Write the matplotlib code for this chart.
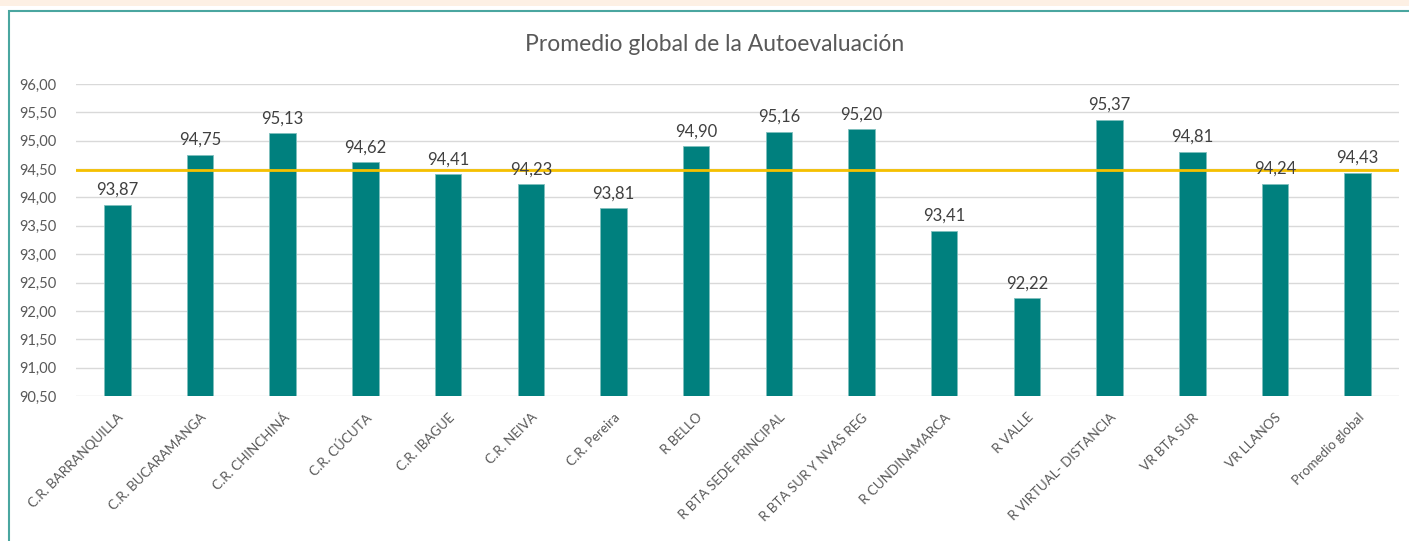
import matplotlib
matplotlib.use("Agg")
import matplotlib.pyplot as plt
from matplotlib.patches import Rectangle
from matplotlib.ticker import FuncFormatter

categories = ["C.R. BARRANQUILLA", "C.R. BUCARAMANGA", "C.R. CHINCHINÁ", "C.R. CÚCUTA",
              "C.R. IBAGUE", "C.R. NEIVA", "C.R. Pereira", "R BELLO",
              "R BTA SEDE PRINCIPAL", "R BTA SUR Y NVAS REG", "R CUNDINAMARCA", "R VALLE",
              "R VIRTUAL- DISTANCIA", "VR BTA SUR", "VR LLANOS", "Promedio global"]
values = [93.87, 94.75, 95.13, 94.62, 94.41, 94.23, 93.81, 94.90,
          95.16, 95.20, 93.41, 92.22, 95.37, 94.81, 94.24, 94.43]
reference_line = 94.48
title = "Promedio global de la Autoevaluación"

plt.rcParams['font.family'] = ['Lato', 'DejaVu Sans']
grey = "#595959"

fig = plt.figure(figsize=(14.09, 5.41), dpi=100)
W, H = 1409, 541
# peach top strip
fig.patches.append(Rectangle((0, 1 - 6 / H), 1, 6 / H, transform=fig.transFigure,
                             facecolor="#fdf0e4", edgecolor="none", zorder=-2))
# teal frame
fig.patches.append(Rectangle((9 / W, -0.1), 1.2, 1 - 11 / H + 0.1, transform=fig.transFigure,
                             facecolor="white", edgecolor="#4aa6a0", linewidth=1.5, zorder=-1))

ax = fig.add_axes([76 / W, 1 - 396 / H, (1399 - 76) / W, (396 - 84) / H])
ax.set_zorder(2)
ax.set_facecolor("none")
x = range(len(categories))
ax.bar(x, values, width=0.32, color="#00807e", edgecolor="#7fbfbd", linewidth=0.6, zorder=2)
ax.axhline(reference_line, color="#f5c000", linewidth=2, zorder=3)
ax.set_ylim(90.5, 96.0)
ax.set_xlim(-0.5, len(categories) - 0.5)
ax.set_yticks([90.5 + 0.5 * i for i in range(12)])
ax.yaxis.set_major_formatter(FuncFormatter(lambda v, p: f"{v:.2f}".replace(".", ",")))
ax.grid(axis="y", color="#d9d9d9", linewidth=1, zorder=0)
for s in ax.spines.values():
    s.set_visible(False)
ax.tick_params(axis="both", length=0, colors=grey, labelsize=10.5)
ax.tick_params(axis="y", pad=14)
ax.tick_params(axis="x", pad=11)
ax.set_xticks(list(x))
ax.set_xticklabels(categories, rotation=45, ha="right", rotation_mode="anchor", fontsize=9.6)
for xi, v in zip(x, values):
    ax.annotate(f"{v:.2f}".replace(".", ","), (xi, v), xytext=(0, 5), textcoords="offset points",
                ha="center", va="bottom", fontsize=12, color="#404040")

fig.text(715 / W, 1 - 45 / H, title, ha="center", va="center", fontsize=16.5, color=grey)

fig.savefig("out.png", dpi=100)
